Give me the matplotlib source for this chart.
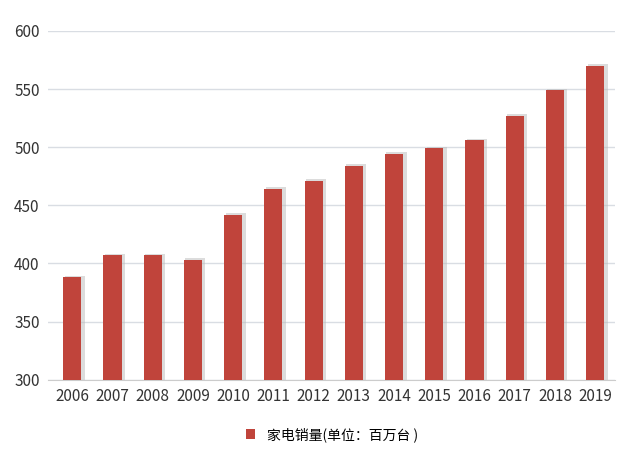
import matplotlib.pyplot as plt

plt.rcParams['font.family'] = ['Noto Sans CJK SC', 'DejaVu Sans']

years = [str(y) for y in range(2006, 2020)]
sales = [388, 407, 407, 403, 442, 464, 471, 484, 494, 499, 506, 527, 549, 570]

fig = plt.figure(figsize=(6.41, 4.62), dpi=100)
ax = fig.add_axes([0.075, 0.178, 0.885, 0.755])

x = range(len(years))
# soft shadow behind bars
ax.bar([i + 0.06 for i in x], [v + 1.5 for v in sales], width=0.5, bottom=0,
       color='#bbbbbb', alpha=0.5, zorder=2)
ax.bar(x, sales, width=0.45, color='#c0443b', zorder=3, label='家电销量(单位：百万台 )')

ax.set_ylim(300, 600)
ax.set_xlim(-0.6, len(years) - 0.5)
ax.set_yticks(range(300, 601, 50))
ax.set_xticks(list(x))
ax.set_xticklabels(years)
ax.grid(axis='y', color='#d9dde3', linewidth=1, zorder=0)
for s in ['top', 'right', 'left']:
    ax.spines[s].set_visible(False)
ax.spines['bottom'].set_color('#cccccc')
ax.tick_params(length=0, labelsize=11, colors='#333333', pad=6)

ax.legend(loc='upper center', bbox_to_anchor=(0.5, -0.1), frameon=False,
          fontsize=10, handlelength=0.7, handleheight=0.7)

fig.savefig('out.png')
